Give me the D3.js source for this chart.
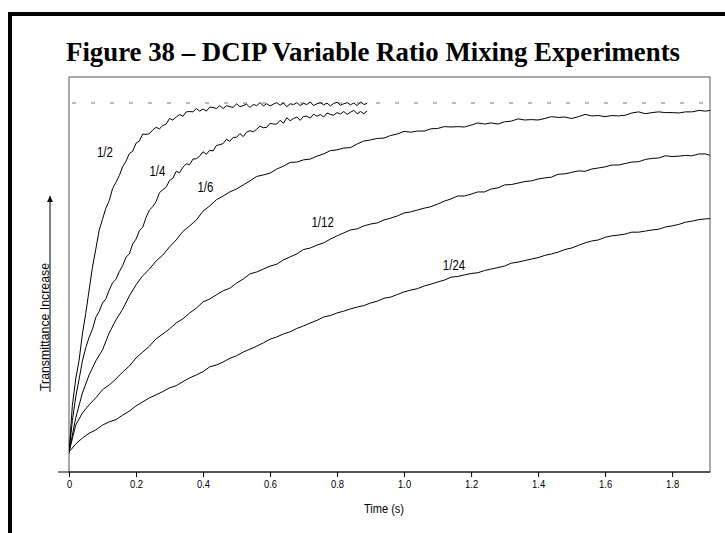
<!DOCTYPE html>
<html><head><meta charset="utf-8">
<script src="https://cdn.jsdelivr.net/npm/d3@7/dist/d3.min.js"></script>
<style>
html,body{margin:0;padding:0;background:#fff;}
svg{display:block;}
</style></head><body>
<script>
// ---------------- DATA ----------------
const titleText = "Figure 38 \u2013 DCIP Variable Ratio Mixing Experiments";
const xTitle = "Time (s)";
const yTitle = "Transmittance Increase";
const timeTicks = [0, 0.2, 0.4, 0.6, 0.8, 1.0, 1.2, 1.4, 1.6, 1.8];
const tickLabels = ["0", "0.2", "0.4", "0.6", "0.8", "1.0", "1.2", "1.4", "1.6", "1.8"];
const seriesNames = ["1/2", "1/4", "1/6", "1/12", "1/24"];
const sampleSteps = [0.01, 0.01, 0.02, 0.02, 0.02]; // seconds between samples
const plateauLevel = 1.0; // dashed reference line

const ratio2 = [0.050,0.180,0.252,0.302,0.374,0.430,0.493,0.555,0.604,0.655,
0.685,0.715,0.735,0.768,0.785,0.803,0.827,0.842,0.863,0.869,
0.891,0.897,0.916,0.915,0.917,0.927,0.934,0.930,0.939,0.943,
0.958,0.954,0.962,0.969,0.964,0.976,0.977,0.976,0.985,0.978,
0.984,0.978,0.989,0.988,0.985,0.993,0.985,0.993,0.990,0.988,
0.998,0.990,0.993,0.997,0.988,0.996,0.993,1.001,0.992,0.998,
0.992,0.997,1.001,0.994,1.000,0.990,0.998,0.996,1.001,0.993,
0.999,0.996,1.003,0.993,0.998,1.001,0.995,1.000,0.992,0.999,
1.002,0.994,0.998,1.001,0.995,1.000,0.993,1.003,0.996,0.999];

const ratio4 = [0.054,0.139,0.203,0.251,0.301,0.337,0.365,0.387,0.419,0.435,
0.458,0.469,0.493,0.513,0.522,0.543,0.559,0.582,0.591,0.618,
0.631,0.654,0.663,0.690,0.710,0.719,0.733,0.757,0.765,0.772,
0.790,0.796,0.815,0.811,0.826,0.835,0.833,0.848,0.849,0.856,
0.868,0.861,0.872,0.870,0.885,0.887,0.890,0.902,0.896,0.907,
0.907,0.917,0.909,0.921,0.925,0.922,0.929,0.937,0.933,0.934,
0.945,0.943,0.943,0.953,0.945,0.960,0.952,0.958,0.962,0.953,
0.964,0.964,0.959,0.970,0.964,0.969,0.962,0.973,0.969,0.967,
0.974,0.970,0.977,0.969,0.975,0.980,0.971,0.977,0.971,0.979];

const ratio6 = [0.054,0.146,0.214,0.263,0.301,0.331,0.377,0.412,0.441,0.477,
0.507,0.532,0.550,0.572,0.588,0.610,0.629,0.652,0.667,0.683,
0.707,0.721,0.738,0.748,0.759,0.767,0.778,0.789,0.801,0.805,
0.810,0.821,0.829,0.839,0.840,0.846,0.848,0.856,0.862,0.871,
0.873,0.878,0.879,0.889,0.897,0.900,0.904,0.905,0.912,0.916,
0.923,0.921,0.924,0.924,0.930,0.931,0.936,0.935,0.936,0.935,
0.940,0.946,0.943,0.946,0.943,0.949,0.951,0.957,0.954,0.955,
0.954,0.958,0.963,0.961,0.962,0.958,0.963,0.969,0.965,0.966,
0.963,0.966,0.965,0.967,0.973,0.976,0.971,0.974,0.976,0.974,
0.974,0.973,0.976,0.976,0.980,0.978,0.981];

const ratio12 = [0.054,0.127,0.160,0.182,0.201,0.223,0.236,0.252,0.271,0.287,
0.309,0.325,0.341,0.361,0.374,0.388,0.404,0.415,0.431,0.444,
0.461,0.469,0.480,0.491,0.498,0.512,0.523,0.537,0.542,0.550,
0.558,0.563,0.575,0.583,0.591,0.603,0.607,0.615,0.621,0.631,
0.640,0.648,0.656,0.659,0.667,0.672,0.675,0.683,0.688,0.694,
0.702,0.705,0.710,0.715,0.719,0.726,0.734,0.740,0.748,0.748,
0.753,0.759,0.759,0.767,0.770,0.778,0.779,0.783,0.787,0.789,
0.794,0.797,0.799,0.807,0.808,0.812,0.816,0.815,0.821,0.824,
0.827,0.832,0.832,0.836,0.840,0.841,0.847,0.850,0.851,0.857,
0.855,0.856,0.858,0.857,0.862,0.862,0.856];

const ratio24 = [0.054,0.076,0.092,0.105,0.114,0.127,0.136,0.142,0.154,0.165,
0.179,0.190,0.201,0.209,0.218,0.228,0.234,0.245,0.255,0.263,
0.272,0.285,0.290,0.298,0.308,0.315,0.325,0.333,0.341,0.350,
0.360,0.366,0.374,0.380,0.389,0.396,0.404,0.411,0.420,0.424,
0.431,0.436,0.442,0.447,0.451,0.458,0.463,0.471,0.474,0.481,
0.488,0.493,0.497,0.504,0.509,0.515,0.520,0.528,0.530,0.534,
0.538,0.540,0.546,0.550,0.554,0.558,0.566,0.569,0.573,0.577,
0.581,0.587,0.591,0.596,0.603,0.607,0.614,0.621,0.626,0.629,
0.636,0.640,0.642,0.645,0.650,0.650,0.653,0.656,0.658,0.664,
0.667,0.671,0.677,0.680,0.684,0.686,0.687];

const seriesValues = [ratio2, ratio4, ratio6, ratio12, ratio24];

// label anchor in data units (time, level)
const labelTimes = [0.107, 0.264, 0.407, 0.757, 1.149];
const labelLevels = [0.854, 0.802, 0.759, 0.664, 0.547];

// ---------------- LAYOUT ----------------
const W = 725, H = 533;
const M = {left: 69, right: 15, top: 77, bottom: 61};
const xMax = 1.913, yMax = 1.0705;
const sans = "'Liberation Sans',Arial,sans-serif";
const squeeze = 0.82; // emulate Arial Narrow

const svg = d3.select("body").append("svg").attr("width", W).attr("height", H);

const x = d3.scaleLinear().domain([0, xMax]).range([M.left, W - M.right]);
const y = d3.scaleLinear().domain([0, yMax]).range([H - M.bottom, M.top]);

function narrowText(px, py, str, size) {
  return svg.append("g").attr("transform", `translate(${px},${py}) scale(${squeeze},1)`)
    .append("text").attr("x", 0).attr("y", 0).attr("text-anchor", "middle")
    .attr("font-family", sans).attr("font-size", size).attr("fill", "#000").text(str);
}

// outer heavy frame
svg.append("rect").attr("x", 10).attr("y", 14).attr("width", W + 20).attr("height", H + 20)
  .attr("fill", "none").attr("stroke", "#000").attr("stroke-width", 4);

// title
svg.append("text").attr("x", 66).attr("y", 61)
  .attr("font-family", "'Liberation Serif','Times New Roman',serif")
  .attr("font-weight", "bold").attr("font-size", 27)
  .attr("textLength", 614).attr("lengthAdjust", "spacingAndGlyphs")
  .text(titleText);

// plot frame
svg.append("rect").attr("x", x(0)).attr("y", y(yMax))
  .attr("width", x(xMax) - x(0)).attr("height", y(0) - y(yMax))
  .attr("fill", "none").attr("stroke", "#555").attr("stroke-width", 1);

// clip
svg.append("clipPath").attr("id", "plotclip").append("rect")
  .attr("x", x(0)).attr("y", y(yMax)).attr("width", x(xMax) - x(0)).attr("height", y(0) - y(yMax));

// dashed plateau line
svg.append("line").attr("x1", x(0) + 3).attr("x2", x(xMax)).attr("y1", y(plateauLevel)).attr("y2", y(plateauLevel))
  .attr("stroke", "#777").attr("stroke-width", 1).attr("stroke-dasharray", "4,15");

// curves
const line = d3.line().x(d => x(d[0])).y(d => y(d[1]));
const g = svg.append("g").attr("clip-path", "url(#plotclip)");
seriesValues.forEach((vals, k) => {
  const pts = vals.map((v, i) => [i * sampleSteps[k], v]);
  g.append("path").datum(pts).attr("d", line)
    .attr("fill", "none").attr("stroke", "#000").attr("stroke-width", 1)
    .attr("stroke-linejoin", "round");
});

// series labels
seriesNames.forEach((n, k) => narrowText(x(labelTimes[k]), y(labelLevels[k]), n, 14));

// x axis
const xAxis = d3.axisBottom(x).tickValues(timeTicks)
  .tickFormat((d, i) => tickLabels[i]).tickSize(5).tickPadding(3).tickSizeOuter(0);
const ax = svg.append("g").attr("transform", `translate(0,${y(0)})`).call(xAxis);
ax.select(".domain").remove();
ax.selectAll(".tick line").attr("stroke", "#000");
ax.selectAll(".tick text").attr("font-family", sans).attr("font-size", 11.5).attr("fill", "#000")
  .attr("transform", `scale(${squeeze},1)`);
svg.append("line").attr("x1", x(0) - 11).attr("x2", x(xMax)).attr("y1", y(0)).attr("y2", y(0))
  .attr("stroke", "#000").attr("stroke-width", 1);

// x title
narrowText(384, 513, xTitle, 13.5);

// y title with arrow
const defs = svg.append("defs");
defs.append("marker").attr("id", "arrowhead").attr("viewBox", "0 0 10 10")
  .attr("refX", 10).attr("refY", 5).attr("markerWidth", 6).attr("markerHeight", 9)
  .attr("markerUnits", "userSpaceOnUse").attr("orient", "auto")
  .append("path").attr("d", "M0,0 L10,5 L0,10 Z").attr("fill", "#000");
svg.append("line").attr("x1", 50).attr("x2", 50).attr("y1", 392).attr("y2", 196)
  .attr("stroke", "#000").attr("stroke-width", 1).attr("marker-end", "url(#arrowhead)");
svg.append("text").attr("transform", "translate(48.5,327) rotate(-90)")
  .attr("text-anchor", "middle").attr("font-family", sans).attr("font-size", 12)
  .attr("textLength", 128).attr("lengthAdjust", "spacingAndGlyphs")
  .text(yTitle);
</script>
</body></html>
